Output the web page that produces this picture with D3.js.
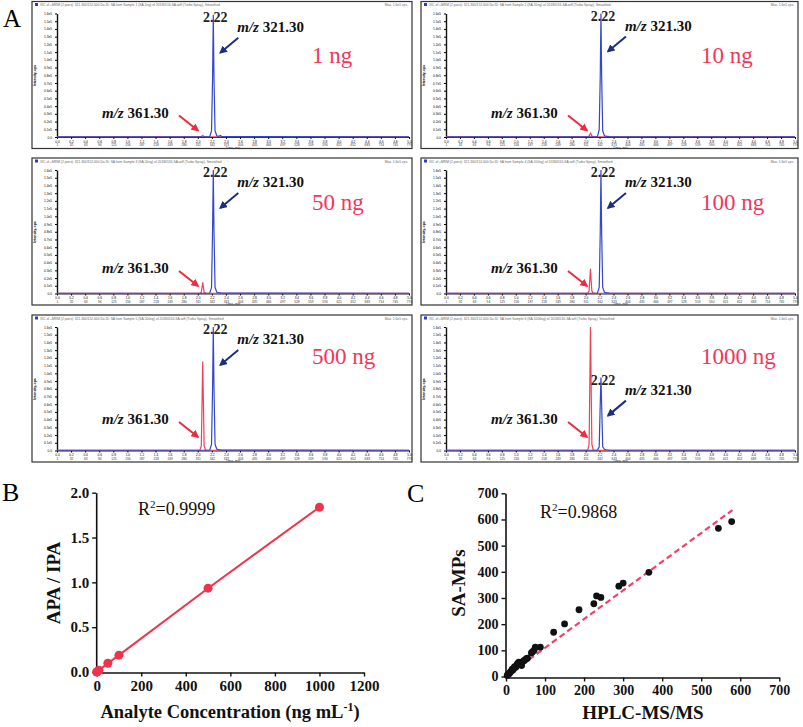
<!DOCTYPE html>
<html>
<head>
    <meta charset="utf-8">
    <style>
        body { margin: 0; background: #fff; }
        svg { display: block; font-family: 'Liberation Serif', 'Times New Roman', serif; }
        .tiny text { font-family: 'Liberation Sans', Arial, sans-serif; }
    </style>
</head>
<body>
<svg width="803" height="727"></svg>

<script src="https://d3js.org/d3.v7.min.js"></script>
<script>
    // ---- panel A : chromatograms (intensity as fraction of each panel's full scale)
    let samples = ["1 ng", "10 ng", "50 ng", "100 ng", "500 ng", "1000 ng"]
    let rtBlue = [0, 2.12, 2.17, 2.195, 2.21, 2.22, 2.23, 2.245, 2.27, 2.30, 2.32, 2.34, 5.0]
    let iBlue = [
        [0.002, 0.002, 0.004, 0.05, 0.48, 0.99, 0.47, 0.05, 0.01, 0.006, 0.012, 0.004, 0.002],
        [0.002, 0.002, 0.004, 0.06, 0.50, 1.00, 0.49, 0.05, 0.01, 0.005, 0.006, 0.003, 0.002],
        [0.002, 0.002, 0.004, 0.05, 0.52, 1.00, 0.50, 0.05, 0.01, 0.005, 0.006, 0.003, 0.002],
        [0.002, 0.002, 0.004, 0.05, 0.50, 1.00, 0.49, 0.05, 0.01, 0.005, 0.006, 0.003, 0.002],
        [0.002, 0.002, 0.004, 0.05, 0.51, 1.00, 0.50, 0.05, 0.01, 0.005, 0.006, 0.003, 0.002],
        [0.002, 0.002, 0.003, 0.03, 0.38, 0.59, 0.37, 0.03, 0.01, 0.004, 0.004, 0.002, 0.002]
    ]
    let rtRed = [0, 1.98, 2.03, 2.05, 2.06, 2.07, 2.08, 2.09, 2.11, 2.16, 5.0]
    let iRed = [
        [0.002, 0.002, 0.003, 0.004, 0.008, 0.012, 0.008, 0.004, 0.003, 0.002, 0.002],
        [0.002, 0.002, 0.003, 0.008, 0.020, 0.030, 0.020, 0.008, 0.003, 0.002, 0.002],
        [0.002, 0.002, 0.003, 0.010, 0.050, 0.090, 0.050, 0.010, 0.003, 0.002, 0.002],
        [0.002, 0.002, 0.003, 0.020, 0.110, 0.200, 0.100, 0.020, 0.003, 0.002, 0.002],
        [0.002, 0.002, 0.003, 0.040, 0.380, 0.720, 0.370, 0.040, 0.003, 0.002, 0.002],
        [0.002, 0.002, 0.003, 0.050, 0.520, 1.000, 0.500, 0.050, 0.003, 0.002, 0.002]
    ]
    let timeTicks = d3.range(0, 26).map(i => i / 5)
    let intTicks = d3.range(0, 17).map(i => i / 16)

    // ---- panel B : calibration
    let concB = [0, 1, 10, 50, 100, 500, 1000]
    let ratioB = [0.0, 0.002, 0.019, 0.097, 0.188, 0.935, 1.838]
    let xTicksB = [0, 200, 400, 600, 800, 1000, 1200]
    let yTicksB = [0, 0.5, 1.0, 1.5, 2.0]

    // ---- panel C : method comparison
    let hplc = [3, 5, 7, 9, 10, 12, 14, 16, 18, 20, 22, 25, 28, 30, 33, 36, 38, 40, 42, 45, 48, 52, 55, 65, 68, 72, 75, 88, 122, 150, 187, 225, 232, 243, 289, 300, 366, 544, 578]
    let samps = [4, 8, 10, 12, 15, 18, 22, 28, 25, 32, 38, 35, 45, 50, 55, 45, 52, 42, 55, 60, 62, 68, 70, 90, 95, 100, 112, 112, 169, 201, 255, 278, 308, 302, 345, 357, 398, 566, 592]
    let fitCx = [0, 580]
    let fitCy = [0, 636]
    let ticksC = [0, 100, 200, 300, 400, 500, 600, 700]

    let svg = d3.select("svg")

    let pink = "#f2365c"
    let blue = "#3446cf"
    let red = "#f04058"

    // arrow heads
    let defs = svg.append("defs")
    function marker(id, color) {
        defs.append("marker")
            .attr("id", id)
            .attr("viewBox", "0 0 10 10")
            .attr("refX", 8).attr("refY", 5)
            .attr("markerWidth", 4).attr("markerHeight", 4)
            .attr("orient", "auto")
            .append("path")
            .attr("d", "M0,0 L10,5 L0,10 z")
            .style("fill", color)
    }
    marker("ah-blue", "#1c2e80")
    marker("ah-red", "#ee2a3e")

    // panel letters
    svg.append("text").attr("x", 3).attr("y", 27).style("font-size", "25px").text("A")
    svg.append("text").attr("x", 2).attr("y", 501).style("font-size", "26px").text("B")
    svg.append("text").attr("x", 407).attr("y", 502).style("font-size", "26px").text("C")

    // ===== panel A =====
    let colLeft = [32, 421]
    let colWidth = [380, 377]
    let rowTop = [1.5, 158, 315]
    let frameH = 147
    let sampleDy = [61, 52, 49]
    let redLabelDy = [116, 115, 109]

    samples.forEach((name, k) => {
        let row = Math.floor(k / 2), col = k % 2
        let fx = colLeft[col], fy = rowTop[row], fw = colWidth[col]
        let g = svg.append("g")

        g.append("rect")
            .attr("x", fx).attr("y", fy).attr("width", fw).attr("height", frameH)
            .style("fill", "white").style("stroke", "#333").style("stroke-width", 1.2)

        // header strip
        let tiny = g.append("g").attr("class", "tiny")
        tiny.append("rect").attr("x", fx + 3).attr("y", fy + 1.5).attr("width", 3).attr("height", 3)
            .style("fill", "#2a3fbf")
        tiny.append("text").attr("x", fx + 8).attr("y", fy + 4.6)
            .style("font-size", "3.3px").style("fill", "#666")
            .text("XIC of +MRM (2 pairs): 321.300/152.000 Da ID: SA from Sample " + (k + 1) + " (SA-" + name.replace(" ", "") + ") of 20180516-SA.wiff (Turbo Spray), Smoothed")
        tiny.append("text").attr("x", fx + fw - 4).attr("y", fy + 4.6).attr("text-anchor", "end")
            .style("font-size", "3.3px").style("fill", "#666").text("Max. 1.6e5 cps.")

        let left = fx + 25, right = fx + fw - 3
        let top = fy + 12, bottom = fy + 135.5

        let x = d3.scaleLinear().domain([0, 5.0]).range([left, right])
        let y = d3.scaleLinear().domain([0, 1]).range([bottom, top])

        let xAxis = g.append("g")
            .attr("transform", `translate(0,${bottom})`)
            .call(d3.axisBottom(x).tickValues(timeTicks).tickSize(2).tickSizeOuter(0).tickFormat(d3.format(".1f")))
        xAxis.select(".domain").style("stroke", "#222").style("stroke-width", 1)
        xAxis.selectAll("text").style("font-size", "3.2px").style("font-family", "Liberation Sans").attr("dy", "0.2em")
        xAxis.selectAll(".tick").append("text")
            .attr("y", 9).style("font-size", "3.2px").style("fill", "#333")
            .style("font-family", "Liberation Sans").attr("text-anchor", "middle")
            .text((d, i) => String(1 + i * 31))
        g.append("text").attr("class", "tiny").attr("x", (left + right) / 2).attr("y", bottom + 11.5)
            .attr("text-anchor", "middle").style("font-size", "3.4px").style("fill", "#444")
            .style("font-family", "Liberation Sans").text("Time, min")

        let yAxis = g.append("g")
            .attr("transform", `translate(${left},0)`)
            .call(d3.axisLeft(y).tickValues(intTicks).tickSize(2).tickSizeOuter(0)
                .tickFormat(d => d === 0 ? "0.0" : (d * 1.6).toFixed(1) + "e5"))
        yAxis.select(".domain").style("stroke", "#111").style("stroke-width", 1.4)
        yAxis.selectAll("text").style("font-size", "3.2px").style("font-family", "Liberation Sans")
        g.append("text")
            .attr("transform", `translate(${fx + 4},${fy + 74}) rotate(-90)`)
            .attr("text-anchor", "middle").style("font-size", "3.4px").style("font-weight", "bold")
            .style("font-family", "Liberation Sans").text("Intensity, cps")

        let line = d3.line().x(d => x(d[0])).y(d => y(d[1]))

        g.append("path")
            .attr("d", line(rtRed.map((t, i) => [t, iRed[k][i]])))
            .style("fill", "none").style("stroke", red).style("stroke-width", 1.2)
        g.append("path")
            .attr("d", line(rtBlue.map((t, i) => [t, iBlue[k][i]])))
            .style("fill", "none").style("stroke", blue).style("stroke-width", 1.2)

        // retention time label at blue apex
        let peakI = d3.max(iBlue[k])
        let px = x(2.22), py = y(peakI)
        g.append("text").attr("x", px + 2).attr("y", py + 7).attr("text-anchor", "middle")
            .style("font-size", "14px").style("font-weight", "bold").style("fill", "#222").text("2.22")

        // m/z 321.30 label + arrow
        let lx = px + 24, ly = py + 17
        let t1 = g.append("text").attr("x", lx).attr("y", ly)
            .style("font-size", "15px").style("font-weight", "bold").style("fill", "#111")
        t1.append("tspan").style("font-style", "italic").text("m/z")
        t1.append("tspan").text(" 321.30")
        g.append("line")
            .attr("x1", lx + 1).attr("y1", ly + 6).attr("x2", lx - 17).attr("y2", ly + 21)
            .style("stroke", "#1c2e80").style("stroke-width", 2)
            .attr("marker-end", "url(#ah-blue)")

        // m/z 361.30 label + arrow
        let rx = fx + 70, ry = fy + redLabelDy[row]
        let t2 = g.append("text").attr("x", rx).attr("y", ry)
            .style("font-size", "15px").style("font-weight", "bold").style("fill", "#111")
        t2.append("tspan").style("font-style", "italic").text("m/z")
        t2.append("tspan").text(" 361.30")
        g.append("line")
            .attr("x1", rx + 77).attr("y1", ry - 2).attr("x2", rx + 96).attr("y2", ry + 13)
            .style("stroke", "#ee2a3e").style("stroke-width", 2)
            .attr("marker-end", "url(#ah-red)")

        // amount label
        g.append("text").attr("x", fx + 280).attr("y", fy + sampleDy[row])
            .style("font-size", "23px").style("fill", pink).text(name)
    })

    // ===== panel B =====
    let xB = d3.scaleLinear().domain([0, 1200]).range([96.7, 364])
    let yB = d3.scaleLinear().domain([0, 2]).range([672, 492.7])

    let gB = svg.append("g")
    let axB = gB.append("g").attr("transform", "translate(0,672.5)")
        .call(d3.axisBottom(xB).tickValues(xTicksB).tickSize(4).tickSizeOuter(0).tickFormat(d3.format("d")))
    let ayB = gB.append("g").attr("transform", "translate(96.2,0)")
        .call(d3.axisLeft(yB).tickValues(yTicksB).tickSize(4).tickSizeOuter(0).tickFormat(d3.format(".1f")))
    ;[axB, ayB].forEach(a => {
        a.select(".domain").style("stroke", "#111").style("stroke-width", 1.6)
        a.selectAll(".tick line").style("stroke", "#111").style("stroke-width", 1.4)
        a.selectAll("text").style("font-size", "15px").style("font-weight", "bold")
            .style("font-family", "Liberation Serif").style("fill", "#111")
    })
    axB.selectAll("text").attr("dy", "0.78em")

    gB.append("path")
        .attr("d", d3.line().x(d => xB(d[0])).y(d => yB(d[1]))(concB.map((c, i) => [c, ratioB[i]])))
        .style("fill", "none").style("stroke", "#f0334d").style("stroke-width", 2)
    gB.selectAll(".ptB").data(concB).join("circle")
        .attr("cx", d => xB(d)).attr("cy", (d, i) => yB(ratioB[i]))
        .attr("r", 4.5).style("fill", "#f0334d")

    let rB = gB.append("text").attr("x", 138).attr("y", 515).style("font-size", "18px").style("fill", "#111")
    rB.append("tspan").text("R")
    rB.append("tspan").attr("dy", -7).style("font-size", "11px").text("2")
    rB.append("tspan").attr("dy", 7).text("=0.9999")

    let xtB = gB.append("text").attr("x", 230).attr("y", 718).attr("text-anchor", "middle")
        .style("font-size", "18.5px").style("font-weight", "bold").style("fill", "#111")
    xtB.append("tspan").text("Analyte Concentration (ng mL")
    xtB.append("tspan").attr("dy", -7).style("font-size", "12px").text("-1")
    xtB.append("tspan").attr("dy", 7).text(")")
    gB.append("text").attr("transform", "translate(60,583) rotate(-90)").attr("text-anchor", "middle")
        .style("font-size", "19px").style("font-weight", "bold").style("fill", "#111").text("APA / IPA")

    // ===== panel C =====
    let xC = d3.scaleLinear().domain([0, 700]).range([506, 779.3])
    let yC = d3.scaleLinear().domain([0, 700]).range([676.5, 493.3])

    let gC = svg.append("g")
    let axC = gC.append("g").attr("transform", "translate(0,677.5)")
        .call(d3.axisBottom(xC).tickValues(ticksC).tickSize(4).tickSizeOuter(0).tickFormat(d3.format("d")))
    let ayC = gC.append("g").attr("transform", "translate(505.5,0)")
        .call(d3.axisLeft(yC).tickValues(ticksC).tickSize(4).tickSizeOuter(0).tickFormat(d3.format("d")))
    ;[axC, ayC].forEach(a => {
        a.select(".domain").style("stroke", "#111").style("stroke-width", 1.6)
        a.selectAll(".tick line").style("stroke", "#111").style("stroke-width", 1.4)
        a.selectAll("text").style("font-size", "14px").style("font-weight", "bold")
            .style("font-family", "Liberation Serif").style("fill", "#111")
    })
    axC.selectAll("text").attr("dy", "0.78em")

    gC.append("path")
        .attr("d", d3.line().x(d => xC(d[0])).y(d => yC(d[1]))(fitCx.map((v, i) => [v, fitCy[i]])))
        .style("fill", "none").style("stroke", "#f0406a").style("stroke-width", 2.2)
        .style("stroke-dasharray", "6,3.5")
    gC.selectAll(".ptC").data(hplc).join("circle")
        .attr("cx", d => xC(d)).attr("cy", (d, i) => yC(samps[i]))
        .attr("r", 3.4).style("fill", "#111")

    let rC = gC.append("text").attr("x", 540).attr("y", 518).style("font-size", "18px").style("fill", "#111")
    rC.append("tspan").text("R")
    rC.append("tspan").attr("dy", -7).style("font-size", "11px").text("2")
    rC.append("tspan").attr("dy", 7).text("=0.9868")

    gC.append("text").attr("x", 643).attr("y", 719).attr("text-anchor", "middle")
        .style("font-size", "19px").style("font-weight", "bold").style("fill", "#111").text("HPLC-MS/MS")
    gC.append("text").attr("transform", "translate(465,583) rotate(-90)").attr("text-anchor", "middle")
        .style("font-size", "19px").style("font-weight", "bold").style("fill", "#111").text("SA-MPs")
</script>
</body>
</html>
